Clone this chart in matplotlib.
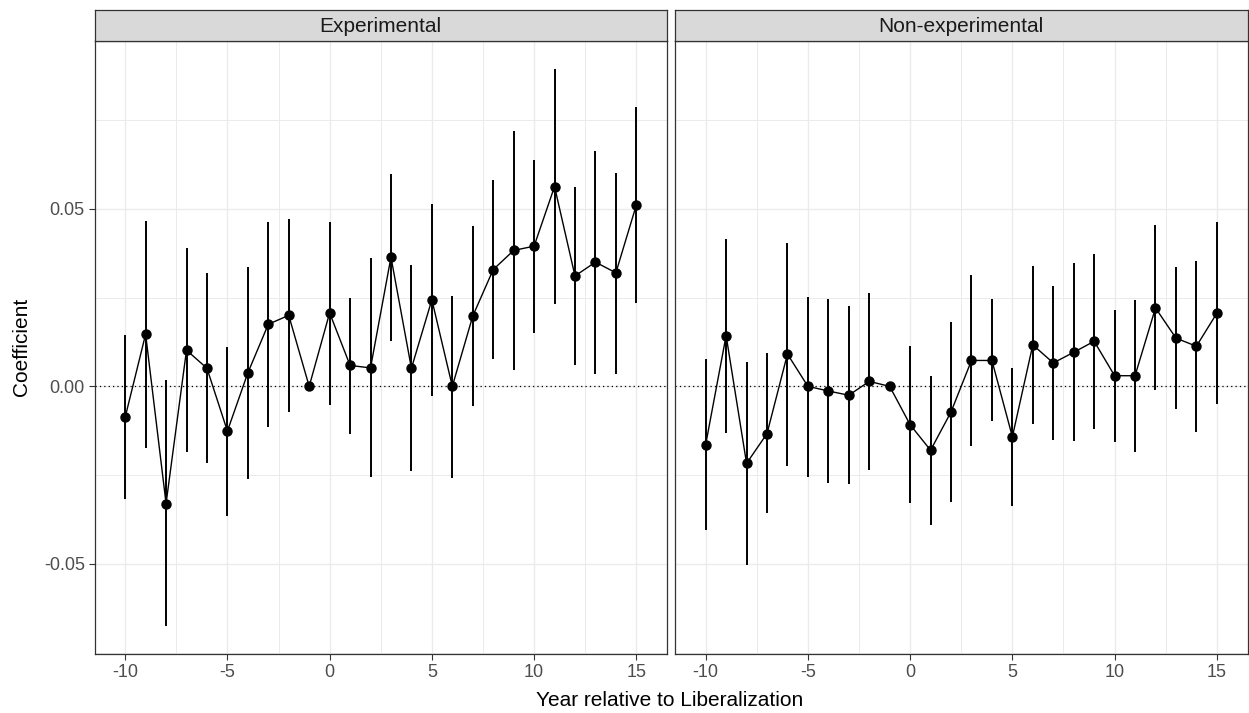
import matplotlib
matplotlib.use("Agg")
import matplotlib.pyplot as plt
import numpy as np

years = list(range(-10, 16))

exp_coef = [-0.0087, 0.0147, -0.0330, 0.0102, 0.0051, -0.0126, 0.0038, 0.0175, 0.0200, 0.0,
            0.0207, 0.0059, 0.0052, 0.0364, 0.0051, 0.0244, 0.0, 0.0198, 0.0329, 0.0383,
            0.0395, 0.0563, 0.0311, 0.0350, 0.0320, 0.0511]
exp_lo = [-0.0317, -0.0173, -0.0675, -0.0185, -0.0216, -0.0364, -0.0260, -0.0115, -0.0072, None,
          -0.0053, -0.0134, -0.0256, 0.0129, -0.0239, -0.0028, -0.0257, -0.0056, 0.0077, 0.0047,
          0.0151, 0.0232, 0.0059, 0.0035, 0.0035, 0.0234]
exp_hi = [0.0144, 0.0465, 0.0017, 0.0390, 0.0320, 0.0112, 0.0336, 0.0462, 0.0471, None,
          0.0464, 0.0250, 0.0361, 0.0599, 0.0341, 0.0514, 0.0255, 0.0451, 0.0582, 0.0719,
          0.0639, 0.0895, 0.0561, 0.0664, 0.0602, 0.0788]

nonexp_coef = [-0.0164, 0.0143, -0.0217, -0.0133, 0.0091, 0.0, -0.0013, -0.0025, 0.0014, 0.0,
               -0.0108, -0.0180, -0.0072, 0.0073, 0.0073, -0.0142, 0.0117, 0.0066, 0.0096, 0.0127,
               0.0030, 0.0030, 0.0221, 0.0136, 0.0113, 0.0206]
nonexp_lo = [-0.0404, -0.0130, -0.0504, -0.0357, -0.0223, -0.0254, -0.0273, -0.0276, -0.0236, None,
             -0.0329, -0.0391, -0.0326, -0.0167, -0.0098, -0.0336, -0.0106, -0.0151, -0.0155, -0.0121,
             -0.0157, -0.0185, -0.0011, -0.0065, -0.0129, -0.0050]
nonexp_hi = [0.0076, 0.0414, 0.0069, 0.0093, 0.0404, 0.0252, 0.0246, 0.0227, 0.0263, None,
             0.0113, 0.0029, 0.0180, 0.0313, 0.0246, 0.0053, 0.0338, 0.0283, 0.0348, 0.0373,
             0.0216, 0.0244, 0.0454, 0.0336, 0.0354, 0.0462]

panels = ["Experimental", "Non-experimental"]
x_ticks = [-10, -5, 0, 5, 10, 15]
y_ticks = [-0.05, 0.0, 0.05]
y_tick_labels = ["-0.05", "0.00", "0.05"]

plt.rcParams['font.family'] = ['Liberation Sans', 'DejaVu Sans']

W, H = 1249, 713
fig = plt.figure(figsize=(W / 100, H / 100), dpi=100)

def fx(px):
    return px / W

def fy(py):
    return 1 - py / H

ax_bottom = fy(654)
ax_h = (654 - 41) / H
lefts = [94.5, 675.0]
width_px = 572.5

data = [(exp_coef, exp_lo, exp_hi), (nonexp_coef, nonexp_lo, nonexp_hi)]

border = "#333333"
for i, (name, (coef, lo, hi)) in enumerate(zip(panels, data)):
    ax = fig.add_axes([fx(lefts[i]), ax_bottom, width_px / W, ax_h])
    ax.set_xlim(-11.5, 16.5)
    ax.set_ylim(-0.0754, 0.0973)
    # grid
    for xv in np.arange(-10, 16, 5):
        ax.axvline(xv, color="#EBEBEB", lw=1.0, zorder=0)
    for xv in np.arange(-7.5, 16, 5):
        ax.axvline(xv, color="#EBEBEB", lw=0.7, zorder=0)
    for yv in y_ticks:
        ax.axhline(yv, color="#EBEBEB", lw=1.0, zorder=0)
    for yv in [-0.075, -0.025, 0.025, 0.075]:
        ax.axhline(yv, color="#EBEBEB", lw=0.7, zorder=0)
    ax.axhline(0, color="black", lw=0.9, ls=(0, (1, 2.5)), zorder=1)
    # error bars
    for x, l, h in zip(years, lo, hi):
        if l is None:
            continue
        ax.plot([x, x], [l, h], color="black", lw=1.4, solid_capstyle="butt", zorder=2)
    ax.plot(years, coef, color="black", lw=1.0, zorder=3)
    ax.plot(years, coef, "o", color="black", ms=6.5, zorder=4)
    ax.set_xticks(x_ticks)
    ax.set_xticklabels([str(t) for t in x_ticks])
    ax.set_yticks(y_ticks)
    if i == 0:
        ax.set_yticklabels(y_tick_labels)
    else:
        ax.tick_params(axis="y", left=False, labelleft=False)
    ax.tick_params(axis="both", direction="out", length=4, width=0.8, color=border,
                   labelsize=13, labelcolor="#4D4D4D", pad=3)
    for s in ax.spines.values():
        s.set_color(border)
        s.set_linewidth(0.9)
    # strip
    sax = fig.add_axes([fx(lefts[i]), fy(41), width_px / W, 31 / H])
    sax.set_facecolor("#D9D9D9")
    sax.set_xticks([])
    sax.set_yticks([])
    for s in sax.spines.values():
        s.set_color(border)
        s.set_linewidth(0.9)
    sax.text(0.5, 0.47, name, transform=sax.transAxes, ha="center", va="center",
             fontsize=15, color="#1A1A1A")

fig.text(fx(670), fy(700), "Year relative to Liberalization", ha="center", va="center",
         fontsize=15, color="black")
fig.text(fx(22), fy(347), "Coefficient", ha="center", va="center", rotation=90,
         fontsize=15, color="black")

fig.savefig("out.png", dpi=100)
